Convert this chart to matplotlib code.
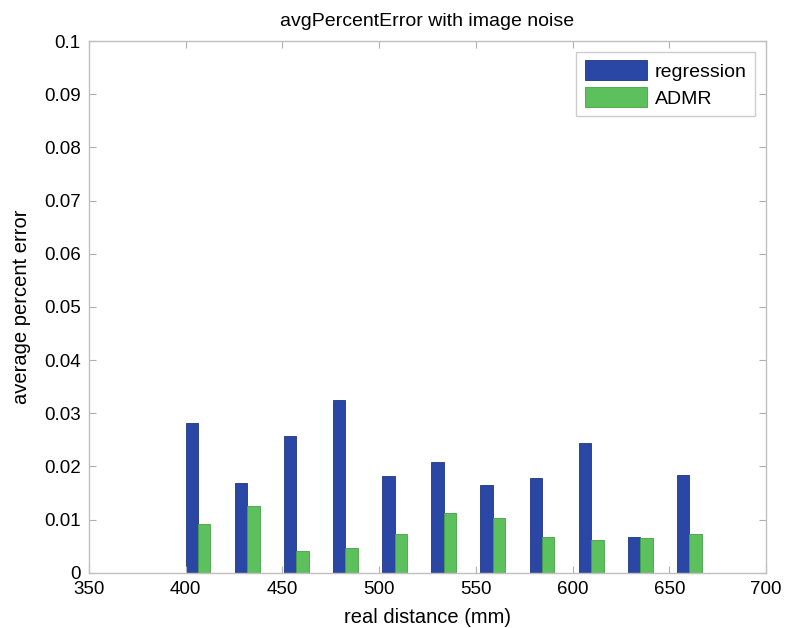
import numpy as np
import matplotlib
matplotlib.use("Agg")
import matplotlib.pyplot as plt

plt.rcParams['font.family'] = ['Liberation Sans', 'DejaVu Sans']

# real distances (mm) and average percent error per method
distance = [406.4, 431.8, 457.2, 482.6, 508.0, 533.4, 558.8, 584.2, 609.6, 635.0, 660.4]
regression = [0.0281, 0.0169, 0.0257, 0.0325, 0.0181, 0.0208, 0.0164, 0.0179, 0.0243, 0.0067, 0.0184]
admr = [0.0091, 0.0126, 0.0041, 0.0047, 0.0073, 0.0112, 0.0102, 0.0067, 0.0061, 0.0065, 0.0073]

x_ticks = [350, 400, 450, 500, 550, 600, 650, 700]
y_ticks = [0, 0.01, 0.02, 0.03, 0.04, 0.05, 0.06, 0.07, 0.08, 0.09, 0.1]
y_labels = ['0', '0.01', '0.02', '0.03', '0.04', '0.05', '0.06', '0.07', '0.08', '0.09', '0.1']

fig = plt.figure(figsize=(7.87, 6.28), dpi=100)
ax = fig.add_axes([0.1131, 0.0881, 0.8602, 0.8466])

x = np.array(distance)
w = 6.4
ax.bar(x - w/2, regression, width=w, color='#2b47a6', edgecolor='#1f3580', linewidth=0.6, label='regression')
ax.bar(x + w/2, admr, width=w, color='#5cc05c', edgecolor='#46a046', linewidth=0.6, label='ADMR')

ax.set_xlim(350, 700)
ax.set_ylim(0, 0.1)
ax.set_xticks(x_ticks)
ax.set_yticks(y_ticks)
ax.set_yticklabels(y_labels)
ax.tick_params(direction='in', top=True, right=True, length=5, color='#b0b0b0',
               labelsize=13.5, pad=6)
for s in ax.spines.values():
    s.set_color('#c0c0c0')
    s.set_linewidth(1.0)

ax.set_title('avgPercentError with image noise', fontsize=14, pad=11)
ax.set_xlabel('real distance (mm)', fontsize=14.5, labelpad=7)
ax.set_ylabel('average percent error', fontsize=14.5, labelpad=9)

leg = ax.legend(loc='upper right', fontsize=14, fancybox=False, handlelength=3.2,
                handleheight=1.15, borderaxespad=0.55, labelspacing=0.35,
                handletextpad=0.4, borderpad=0.45)
leg.get_frame().set_edgecolor('#c0c0c0')
leg.get_frame().set_linewidth(1.0)

fig.savefig('out.png', dpi=100)
